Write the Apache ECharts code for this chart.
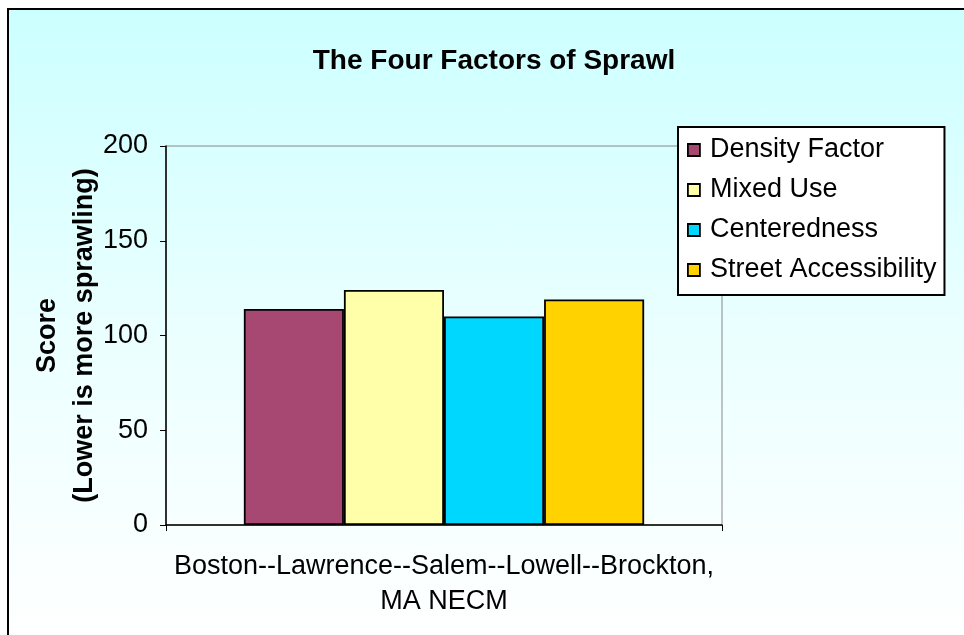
<!DOCTYPE html>
<html>
<head>
<meta charset="utf-8">
<script src="https://cdn.jsdelivr.net/npm/echarts@6/dist/echarts.min.js"></script>
<style>
  html, body { margin: 0; padding: 0; background: #fff; overflow: hidden; }
  #chart {
    position: absolute; left: 7px; top: 8px; width: 957px; height: 627px;
    border-left: 2px solid #000; border-top: 2px solid #000;
    background: linear-gradient(to bottom, #ccffff 0%, #eaffff 50%, #ffffff 100%);
  }
</style>
</head>
<body>
<div id="chart"></div>
<script>
    var chartTitle = 'The Four Factors of Sprawl';
    var categories = ['Boston--Lawrence--Salem--Lowell--Brockton,\nMA NECM'];
    var seriesNames = ['Density Factor', 'Mixed Use', 'Centeredness', 'Street Accessibility'];
    var seriesValues = [114, 124, 110, 119];
    var seriesColors = ['#a64872', '#ffffaa', '#00d7ff', '#ffd200'];
    var yTicks = [0, 50, 100, 150, 200];

    var font = '"Liberation Sans", Arial, sans-serif';
    var chart = echarts.init(document.getElementById('chart'));

    // container content starts at page (9,10)
    var series = seriesNames.map(function(name, i) {
        return {
            name: name,
            type: 'bar',
            barGap: '0%',
            barCategoryGap: '28%',
            data: [seriesValues[i]],
            itemStyle: {
                color: seriesColors[i],
                borderColor: '#000',
                borderWidth: 1.8
            }
        };
    });

    var option = {
        animation: false,
        textStyle: { fontFamily: font },
        title: {
            text: chartTitle,
            left: 480,
            top: 32,
            textAlign: 'center',
            textStyle: { fontSize: 28, fontWeight: 'bold', color: '#000', fontFamily: font }
        },
        legend: {
            orient: 'vertical',
            left: 669,
            top: 117,
            backgroundColor: '#fff',
            borderColor: '#000',
            borderWidth: 2,
            borderRadius: 0,
            padding: [8, 8, 10, 9],
            itemWidth: 12,
            itemHeight: 12,
            itemGap: 10,
            icon: 'rect',
            itemStyle: { borderColor: '#000', borderWidth: 1.8 },
            textStyle: { fontSize: 27, color: '#000', fontFamily: font, padding: [0, 0, 0, 5], lineHeight: 30 },
            data: seriesNames
        },
        grid: {
            left: 157,
            top: 136,
            right: 244,
            bottom: 112,
            outerBoundsMode: 'none',
            containLabel: false,
            show: true,
            borderColor: '#888',
            borderWidth: 1,
            backgroundColor: 'transparent'
        },
        xAxis: {
            type: 'category',
            data: categories,
            axisLine: { lineStyle: { color: '#000', width: 1.5 } },
            axisTick: { show: true, length: 6, lineStyle: { color: '#000' } },
            axisLabel: { fontSize: 27, color: '#000', lineHeight: 35, margin: 24, fontFamily: font }
        },
        yAxis: {
            type: 'value',
            min: 0,
            max: 200,
            interval: 50,
            name: 'Score\n(Lower is more sprawling)',
            nameLocation: 'middle',
            nameRotate: 90,
            nameGap: 63,
            nameMoveOverlap: false,
            nameTextStyle: { fontSize: 27, fontWeight: 'bold', color: '#000', lineHeight: 37, fontFamily: font },
            axisLine: { show: true, lineStyle: { color: '#000', width: 1.5 } },
            axisTick: { show: true, length: 6, lineStyle: { color: '#000' } },
            axisLabel: { fontSize: 27, color: '#000', margin: 18, fontFamily: font,
                formatter: function(v) { return yTicks.indexOf(v) >= 0 ? String(v) : ''; } },
            splitLine: { show: false }
        },
        series: series
    };

    chart.setOption(option);
</script>
</body>
</html>
